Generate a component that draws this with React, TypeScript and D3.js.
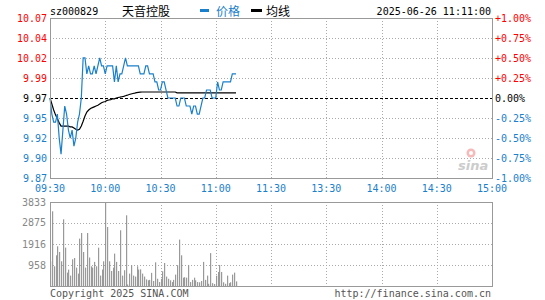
import React from "react";
import * as d3 from "d3";

const W = 545;
const H = 300;

// meta
const code = "sz000829";
const stockName = "天音控股";
const stamp = "2025-06-26 11:11:00";
const prevClose = 9.97;

// axis labels
const priceTicks = ["10.07", "10.04", "10.02", "9.99", "9.97", "9.95", "9.92", "9.90", "9.87"];
const pctTicks = ["+1.00%", "+0.75%", "+0.50%", "+0.25%", "0.00%", "-0.25%", "-0.50%", "-0.75%", "-1.00%"];
const timeTicks = ["09:30", "10:00", "10:30", "11:00", "11:30", "13:30", "14:00", "14:30", "15:00"];
const volTicks = [958, 1916, 2875, 3833];

// one value per minute from 09:30
const price = [
  9.97, 9.95, 9.94, 9.94, 9.95, 9.92, 9.9, 9.93, 9.96, 9.95,
  9.93, 9.92, 9.93, 9.91, 9.92, 9.94, 9.95, 9.97, 10.02, 10.02,
  10.0, 10.01, 10.0, 10.0, 10.01, 10.0, 10.01, 10.02, 10.01, 10.01,
  10.0, 10.01, 10.01, 10.01, 10.01, 9.99, 10.01, 9.99, 10.0, 10.0,
  10.01, 10.02, 10.01, 10.01, 10.01, 10.01, 10.01, 10.01, 10.01, 10.0,
  10.0, 10.0, 10.01, 10.01, 10.0, 10.0, 10.0, 9.99, 9.99, 9.98,
  9.98, 9.99, 9.99, 9.98, 9.97, 9.97, 9.97, 9.97, 9.97, 9.96,
  9.96, 9.97, 9.97, 9.97, 9.96, 9.96, 9.96, 9.95, 9.96, 9.96,
  9.95, 9.95, 9.96, 9.97, 9.97, 9.98, 9.98, 9.98, 9.97, 9.97,
  9.97, 9.99, 9.98, 9.98, 9.99, 9.99, 9.99, 9.99, 9.99, 10.0,
  10.0, 10.0,
];

const avg = [
  9.97, 9.9625, 9.955, 9.949, 9.944, 9.939, 9.935, 9.935, 9.935, 9.935,
  9.935, 9.934, 9.934, 9.9325, 9.931, 9.93, 9.931, 9.935, 9.941, 9.9475,
  9.9525, 9.955, 9.957, 9.958, 9.959, 9.96, 9.961, 9.9625, 9.964, 9.965,
  9.9656, 9.967, 9.9675, 9.968, 9.969, 9.969, 9.97, 9.9706, 9.971, 9.9716,
  9.972, 9.9728, 9.9735, 9.9743, 9.975, 9.9756, 9.976, 9.9766, 9.977, 9.9773,
  9.9775, 9.9775, 9.9775, 9.9775, 9.9775, 9.9775, 9.9775, 9.9775, 9.9775, 9.9775,
  9.9775, 9.9775, 9.9775, 9.9775, 9.9775, 9.9775, 9.9775, 9.9775, 9.9775, 9.9765,
  9.9765, 9.9765, 9.9765, 9.9765, 9.9765, 9.9765, 9.9765, 9.9765, 9.9765, 9.9765,
  9.9765, 9.9765, 9.9765, 9.9765, 9.9765, 9.9765, 9.9765, 9.9765, 9.9765, 9.9765,
  9.9765, 9.9765, 9.9765, 9.9765, 9.9765, 9.9765, 9.9765, 9.9765, 9.9765, 9.9765,
  9.9765, 9.9765,
];

const volume = [
  1127, 3408, 899, 1400, 1811, 1551, 1127, 3043, 1752, 611,
  748, 475, 1218, 1278, 840, 566, 2163, 2418, 1551, 840,
  2418, 1300, 900, 840, 1100, 900, 1750, 475, 750, 1127,
  3833, 2692, 1127, 685, 840, 1478, 1100, 685, 2541, 475,
  720, 3225, 70, 566, 950, 475, 430, 900, 750, 760,
  566, 430, 300, 260, 280, 600, 230, 1080, 330, 180,
  330, 670, 1050, 430, 330, 260, 180, 280, 520, 950,
  2117, 1400, 380, 400, 380, 960, 180, 280, 380, 260,
  180, 170, 230, 1100, 280, 475, 100, 1500, 130, 90,
  470, 640, 960, 640, 170, 100, 475, 130, 170, 520,
  610, 210,
];

const RED = "#ff0000";
const BLUE = "#1a80cc";
const GRAY = "#999999";
const MONO = "'DejaVu Sans Mono', 'Liberation Mono', monospace";
const CJK = "'Noto Sans CJK SC', sans-serif";

const left = 50;
const right = 492;
const pTop = 18;
const pBottom = 178;
const vTop = 202;
const vBottom = 286;

export default function App() {
  const x = d3.scaleLinear().domain([0, 240]).range([left, right]);
  const y = d3
    .scaleLinear()
    .domain([prevClose * 0.99, prevClose * 1.01])
    .range([pBottom, pTop]);
  const yv = d3.scaleLinear().domain([0, 3833]).range([vBottom, vTop]);

  const line = d3
    .line<number>()
    .x((_, i) => x(i))
    .y((d) => y(d));

  const levelY = (i: number) => pTop + ((pBottom - pTop) / 8) * i;
  const tone = (i: number) => (i < 4 ? RED : i === 4 ? "#000" : BLUE);

  return (
    <div style={{ position: "fixed", left: 0, top: 0 }}>
      <svg width={W} height={H} style={{ display: "block", background: "#fff" }}>
        {/* header */}
        <text x={50} y={15} fontFamily={MONO} fontSize={10} fill="#000">{code}</text>
        <text x={122} y={16} fontFamily={CJK} fontSize={12} fill="#000">{stockName}</text>
        <rect x={200} y={9} width={9} height={3} fill={BLUE} />
        <text x={216} y={16} fontFamily={CJK} fontSize={12} fill={BLUE}>价格</text>
        <rect x={251} y={9} width={11} height={3} fill="#000" />
        <text x={266} y={16} fontFamily={CJK} fontSize={12} fill="#000">均线</text>
        <text x={491} y={15} textAnchor="end" fontFamily={MONO} fontSize={10} fill="#000">{stamp}</text>

        {/* price grid */}
        {priceTicks.map((_, i) =>
          i > 0 && i < 8 && i !== 4 ? (
            <line key={"hg" + i} x1={left} x2={right} y1={levelY(i) + 0.5} y2={levelY(i) + 0.5}
              stroke="#aaa" strokeDasharray="1,2" />
          ) : null
        )}
        {timeTicks.map((_, i) =>
          i > 0 && i < 8 ? (
            <g key={"vg" + i}>
              <line x1={Math.round(x(i * 30)) + 0.5} x2={Math.round(x(i * 30)) + 0.5} y1={pTop} y2={pBottom}
                stroke="#aaa" strokeDasharray="1,2" />
              <line x1={Math.round(x(i * 30)) + 0.5} x2={Math.round(x(i * 30)) + 0.5} y1={vTop} y2={vBottom}
                stroke="#aaa" strokeDasharray="1,2" />
            </g>
          ) : null
        )}
        {volTicks.slice(0, 3).map((v) => (
          <line key={"vh" + v} x1={left} x2={right} y1={Math.round(yv(v)) + 0.5} y2={Math.round(yv(v)) + 0.5}
            stroke="#aaa" strokeDasharray="1,2" />
        ))}

        {/* watermark */}
        <g opacity={0.75}>
          <circle cx={471} cy={153} r={4.5} fill="#f3a3a3" />
          <circle cx={471} cy={153} r={2} fill="#fff" />
          <text x={458} y={170} fontFamily="'DejaVu Sans', sans-serif" fontStyle="italic" fontWeight="bold"
            fontSize={13} fill="#bbb">sina</text>
        </g>

        {/* prev close */}
        <line x1={left} x2={right} y1={y(prevClose) + 0.5} y2={y(prevClose) + 0.5} stroke="#000" strokeDasharray="3,2" />

        {/* volume bars */}
        {volume.map((v, i) => (
          <rect key={"b" + i} x={Math.round(x(i))} y={yv(v)} width={1.2} height={yv(0) - yv(v)} fill={GRAY} />
        ))}

        {/* lines */}
        <path d={line(avg) || ""} fill="none" stroke="#000" strokeWidth={1.2} />
        <path d={line(price) || ""} fill="none" stroke={BLUE} strokeWidth={1.2} />

        {/* borders */}
        <rect x={left + 0.5} y={pTop + 0.5} width={right - left} height={pBottom - pTop} fill="none" stroke={GRAY} />
        <rect x={left + 0.5} y={vTop + 0.5} width={right - left} height={vBottom - vTop} fill="none" stroke={GRAY} />

        {/* price labels */}
        {priceTicks.map((t, i) => (
          <text key={"pl" + i} x={47} y={levelY(i)} dy="0.35em" textAnchor="end" fontFamily={MONO} fontSize={10}
            fill={tone(i)}>{t}</text>
        ))}
        {pctTicks.map((t, i) => (
          <text key={"pr" + i} x={495} y={levelY(i)} dy="0.35em" fontFamily={MONO} fontSize={10}
            fill={tone(i)}>{t}</text>
        ))}
        {timeTicks.map((t, i) => (
          <text key={"tl" + i} x={x(i * 30)} y={192} textAnchor="middle" fontFamily={MONO} fontSize={10}
            fill={BLUE}>{t}</text>
        ))}
        {volTicks.map((v) => (
          <text key={"vl" + v} x={46} y={yv(v)} dy="0.35em" textAnchor="end" fontFamily={MONO} fontSize={10}
            fill="#888">{v}</text>
        ))}

        {/* footer */}
        <text x={50} y={297} fontFamily={MONO} fontSize={10} fill="#555">Copyright 2025 SINA.COM</text>
        <text x={491} y={297} textAnchor="end" fontFamily={MONO} fontSize={10} fill="#555">http://finance.sina.com.cn</text>
      </svg>
    </div>
  );
}
